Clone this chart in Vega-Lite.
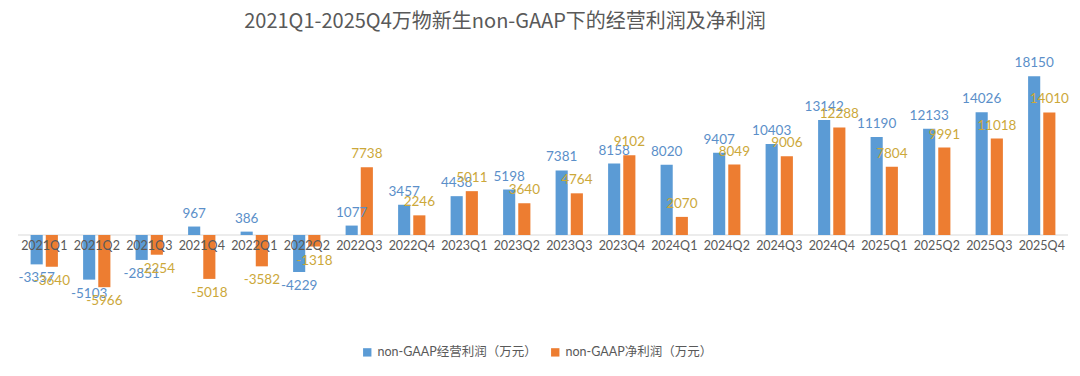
{
  "$schema": "https://vega.github.io/schema/vega-lite/v6.json",
  "width": 1050,
  "height": 245,
  "padding": {"left": 17, "right": 13, "top": 12, "bottom": 5},
  "background": "white",
  "title": {"text": "2021Q1-2025Q4万物新生non-GAAP下的经营利润及净利润", "fontSize": 20, "font": "Noto Sans CJK SC", "fontWeight": "normal", "color": "#595959", "dx": -38, "offset": 24},
  "config": {"view": {"stroke": null}, "font": "Lato, Noto Sans CJK SC"},
  "data": {"values": [
    {"quarter": "2021Q1", "series": "non-GAAP经营利润（万元）", "value": -3357},
    {"quarter": "2021Q1", "series": "non-GAAP净利润（万元）", "value": -3640},
    {"quarter": "2021Q2", "series": "non-GAAP经营利润（万元）", "value": -5103},
    {"quarter": "2021Q2", "series": "non-GAAP净利润（万元）", "value": -5966},
    {"quarter": "2021Q3", "series": "non-GAAP经营利润（万元）", "value": -2851},
    {"quarter": "2021Q3", "series": "non-GAAP净利润（万元）", "value": -2254},
    {"quarter": "2021Q4", "series": "non-GAAP经营利润（万元）", "value": 967},
    {"quarter": "2021Q4", "series": "non-GAAP净利润（万元）", "value": -5018},
    {"quarter": "2022Q1", "series": "non-GAAP经营利润（万元）", "value": 386},
    {"quarter": "2022Q1", "series": "non-GAAP净利润（万元）", "value": -3582},
    {"quarter": "2022Q2", "series": "non-GAAP经营利润（万元）", "value": -4229},
    {"quarter": "2022Q2", "series": "non-GAAP净利润（万元）", "value": -1318},
    {"quarter": "2022Q3", "series": "non-GAAP经营利润（万元）", "value": 1077},
    {"quarter": "2022Q3", "series": "non-GAAP净利润（万元）", "value": 7738},
    {"quarter": "2022Q4", "series": "non-GAAP经营利润（万元）", "value": 3457},
    {"quarter": "2022Q4", "series": "non-GAAP净利润（万元）", "value": 2246},
    {"quarter": "2023Q1", "series": "non-GAAP经营利润（万元）", "value": 4438},
    {"quarter": "2023Q1", "series": "non-GAAP净利润（万元）", "value": 5011},
    {"quarter": "2023Q2", "series": "non-GAAP经营利润（万元）", "value": 5198},
    {"quarter": "2023Q2", "series": "non-GAAP净利润（万元）", "value": 3640},
    {"quarter": "2023Q3", "series": "non-GAAP经营利润（万元）", "value": 7381},
    {"quarter": "2023Q3", "series": "non-GAAP净利润（万元）", "value": 4764},
    {"quarter": "2023Q4", "series": "non-GAAP经营利润（万元）", "value": 8158},
    {"quarter": "2023Q4", "series": "non-GAAP净利润（万元）", "value": 9102},
    {"quarter": "2024Q1", "series": "non-GAAP经营利润（万元）", "value": 8020},
    {"quarter": "2024Q1", "series": "non-GAAP净利润（万元）", "value": 2070},
    {"quarter": "2024Q2", "series": "non-GAAP经营利润（万元）", "value": 9407},
    {"quarter": "2024Q2", "series": "non-GAAP净利润（万元）", "value": 8049},
    {"quarter": "2024Q3", "series": "non-GAAP经营利润（万元）", "value": 10403},
    {"quarter": "2024Q3", "series": "non-GAAP净利润（万元）", "value": 9006},
    {"quarter": "2024Q4", "series": "non-GAAP经营利润（万元）", "value": 13142},
    {"quarter": "2024Q4", "series": "non-GAAP净利润（万元）", "value": 12288},
    {"quarter": "2025Q1", "series": "non-GAAP经营利润（万元）", "value": 11190},
    {"quarter": "2025Q1", "series": "non-GAAP净利润（万元）", "value": 7804},
    {"quarter": "2025Q2", "series": "non-GAAP经营利润（万元）", "value": 12133},
    {"quarter": "2025Q2", "series": "non-GAAP净利润（万元）", "value": 9991},
    {"quarter": "2025Q3", "series": "non-GAAP经营利润（万元）", "value": 14026},
    {"quarter": "2025Q3", "series": "non-GAAP净利润（万元）", "value": 11018},
    {"quarter": "2025Q4", "series": "non-GAAP经营利润（万元）", "value": 18150},
    {"quarter": "2025Q4", "series": "non-GAAP净利润（万元）", "value": 14010}
  ]},
  "layer": [
    {
      "data": {"values": [{}]},
      "mark": {"type": "rule", "color": "#d9d9d9", "strokeWidth": 1},
      "encoding": {"y": {"datum": 0, "type": "quantitative", "scale": {"domain": [-8000, 20000]}, "axis": null}}
    },
    {
      "mark": {"type": "bar"},
      "encoding": {
        "x": {"field": "quarter", "type": "nominal", "sort": null, "scale": {"paddingInner": 0.48, "paddingOuter": 0.24},
          "axis": {"title": null, "offset": -70, "domain": false, "ticks": false, "labelAngle": 0, "labelFontSize": 12.5, "labelColor": "#595959", "labelPadding": 4, "zindex": 1}},
        "xOffset": {"field": "series", "sort": ["non-GAAP经营利润（万元）", "non-GAAP净利润（万元）"], "scale": {"paddingInner": 0.2}},
        "y": {"field": "value", "type": "quantitative", "scale": {"domain": [-8000, 20000]}, "axis": null},
        "color": {"field": "series", "type": "nominal", "sort": ["non-GAAP经营利润（万元）", "non-GAAP净利润（万元）"],
          "scale": {"domain": ["non-GAAP经营利润（万元）", "non-GAAP净利润（万元）"], "range": ["#5B9BD5", "#ED7D31"]},
          "legend": {"title": null, "orient": "none", "legendX": 343, "legendY": 286, "direction": "horizontal", "symbolType": "square", "symbolSize": 70, "labelFontSize": 12.5, "labelColor": "#595959", "columnPadding": 12}}
      }
    },
    {
      "transform": [{"filter": "datum.value >= 0"}],
      "mark": {"type": "text", "baseline": "bottom", "dy": -6, "fontSize": 13.5},
      "encoding": {
        "x": {"field": "quarter", "type": "nominal", "sort": null},
        "xOffset": {"field": "series", "sort": ["non-GAAP经营利润（万元）", "non-GAAP净利润（万元）"]},
        "y": {"field": "value", "type": "quantitative"},
        "text": {"field": "value", "type": "nominal"},
        "color": {"condition": {"test": "datum.series === 'non-GAAP经营利润（万元）'", "value": "#5B8FC9"}, "value": "#CCA83A"}
      }
    },
    {
      "transform": [{"filter": "datum.value < 0"}],
      "mark": {"type": "text", "baseline": "top", "dy": 7, "fontSize": 13.5},
      "encoding": {
        "x": {"field": "quarter", "type": "nominal", "sort": null},
        "xOffset": {"field": "series", "sort": ["non-GAAP经营利润（万元）", "non-GAAP净利润（万元）"]},
        "y": {"field": "value", "type": "quantitative"},
        "text": {"field": "value", "type": "nominal"},
        "color": {"condition": {"test": "datum.series === 'non-GAAP经营利润（万元）'", "value": "#5B8FC9"}, "value": "#CCA83A"}
      }
    }
  ]
}
